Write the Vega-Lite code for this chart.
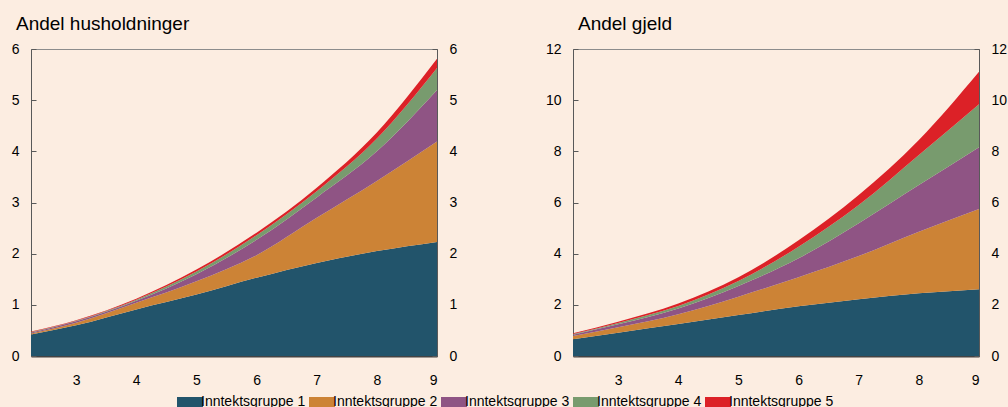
{
"$schema":"https://vega.github.io/schema/vega-lite/v6.json",
"background":"#fcede1",
"padding":{"left":10,"top":14,"right":0,"bottom":0},
"datasets":{
"hh":[
{"x":2.25,"gruppe":"Inntektsgruppe 1","v":0.42},{"x":2.25,"gruppe":"Inntektsgruppe 2","v":0.02},{"x":2.25,"gruppe":"Inntektsgruppe 3","v":0.02},{"x":2.25,"gruppe":"Inntektsgruppe 4","v":0.01},{"x":2.25,"gruppe":"Inntektsgruppe 5","v":0.01},
{"x":3,"gruppe":"Inntektsgruppe 1","v":0.60},{"x":3,"gruppe":"Inntektsgruppe 2","v":0.05},{"x":3,"gruppe":"Inntektsgruppe 3","v":0.03},{"x":3,"gruppe":"Inntektsgruppe 4","v":0.01},{"x":3,"gruppe":"Inntektsgruppe 5","v":0.01},
{"x":4,"gruppe":"Inntektsgruppe 1","v":0.91},{"x":4,"gruppe":"Inntektsgruppe 2","v":0.13},{"x":4,"gruppe":"Inntektsgruppe 3","v":0.04},{"x":4,"gruppe":"Inntektsgruppe 4","v":0.02},{"x":4,"gruppe":"Inntektsgruppe 5","v":0.02},
{"x":5,"gruppe":"Inntektsgruppe 1","v":1.20},{"x":5,"gruppe":"Inntektsgruppe 2","v":0.26},{"x":5,"gruppe":"Inntektsgruppe 3","v":0.14},{"x":5,"gruppe":"Inntektsgruppe 4","v":0.05},{"x":5,"gruppe":"Inntektsgruppe 5","v":0.04},
{"x":6,"gruppe":"Inntektsgruppe 1","v":1.53},{"x":6,"gruppe":"Inntektsgruppe 2","v":0.44},{"x":6,"gruppe":"Inntektsgruppe 3","v":0.30},{"x":6,"gruppe":"Inntektsgruppe 4","v":0.09},{"x":6,"gruppe":"Inntektsgruppe 5","v":0.05},
{"x":7,"gruppe":"Inntektsgruppe 1","v":1.82},{"x":7,"gruppe":"Inntektsgruppe 2","v":0.88},{"x":7,"gruppe":"Inntektsgruppe 3","v":0.40},{"x":7,"gruppe":"Inntektsgruppe 4","v":0.12},{"x":7,"gruppe":"Inntektsgruppe 5","v":0.07},
{"x":8,"gruppe":"Inntektsgruppe 1","v":2.05},{"x":8,"gruppe":"Inntektsgruppe 2","v":1.37},{"x":8,"gruppe":"Inntektsgruppe 3","v":0.58},{"x":8,"gruppe":"Inntektsgruppe 4","v":0.25},{"x":8,"gruppe":"Inntektsgruppe 5","v":0.12},
{"x":9,"gruppe":"Inntektsgruppe 1","v":2.23},{"x":9,"gruppe":"Inntektsgruppe 2","v":1.96},{"x":9,"gruppe":"Inntektsgruppe 3","v":1.01},{"x":9,"gruppe":"Inntektsgruppe 4","v":0.43},{"x":9,"gruppe":"Inntektsgruppe 5","v":0.18}
],
"gj":[
{"x":2.25,"gruppe":"Inntektsgruppe 1","v":0.65},{"x":2.25,"gruppe":"Inntektsgruppe 2","v":0.13},{"x":2.25,"gruppe":"Inntektsgruppe 3","v":0.05},{"x":2.25,"gruppe":"Inntektsgruppe 4","v":0.03},{"x":2.25,"gruppe":"Inntektsgruppe 5","v":0.03},
{"x":3,"gruppe":"Inntektsgruppe 1","v":0.91},{"x":3,"gruppe":"Inntektsgruppe 2","v":0.21},{"x":3,"gruppe":"Inntektsgruppe 3","v":0.12},{"x":3,"gruppe":"Inntektsgruppe 4","v":0.05},{"x":3,"gruppe":"Inntektsgruppe 5","v":0.05},
{"x":4,"gruppe":"Inntektsgruppe 1","v":1.25},{"x":4,"gruppe":"Inntektsgruppe 2","v":0.38},{"x":4,"gruppe":"Inntektsgruppe 3","v":0.23},{"x":4,"gruppe":"Inntektsgruppe 4","v":0.09},{"x":4,"gruppe":"Inntektsgruppe 5","v":0.10},
{"x":5,"gruppe":"Inntektsgruppe 1","v":1.60},{"x":5,"gruppe":"Inntektsgruppe 2","v":0.72},{"x":5,"gruppe":"Inntektsgruppe 3","v":0.42},{"x":5,"gruppe":"Inntektsgruppe 4","v":0.19},{"x":5,"gruppe":"Inntektsgruppe 5","v":0.15},
{"x":6,"gruppe":"Inntektsgruppe 1","v":1.94},{"x":6,"gruppe":"Inntektsgruppe 2","v":1.14},{"x":6,"gruppe":"Inntektsgruppe 3","v":0.74},{"x":6,"gruppe":"Inntektsgruppe 4","v":0.45},{"x":6,"gruppe":"Inntektsgruppe 5","v":0.25},
{"x":7,"gruppe":"Inntektsgruppe 1","v":2.22},{"x":7,"gruppe":"Inntektsgruppe 2","v":1.69},{"x":7,"gruppe":"Inntektsgruppe 3","v":1.28},{"x":7,"gruppe":"Inntektsgruppe 4","v":0.71},{"x":7,"gruppe":"Inntektsgruppe 5","v":0.39},
{"x":8,"gruppe":"Inntektsgruppe 1","v":2.45},{"x":8,"gruppe":"Inntektsgruppe 2","v":2.41},{"x":8,"gruppe":"Inntektsgruppe 3","v":1.82},{"x":8,"gruppe":"Inntektsgruppe 4","v":1.18},{"x":8,"gruppe":"Inntektsgruppe 5","v":0.58},
{"x":9,"gruppe":"Inntektsgruppe 1","v":2.61},{"x":9,"gruppe":"Inntektsgruppe 2","v":3.14},{"x":9,"gruppe":"Inntektsgruppe 3","v":2.41},{"x":9,"gruppe":"Inntektsgruppe 4","v":1.68},{"x":9,"gruppe":"Inntektsgruppe 5","v":1.27}
]
},
"spacing":86,
"hconcat":[
{
"width":406,"height":307,
"title":{"text":"Andel husholdninger","dx":-15},
"data":{"name":"hh"},
"encoding":{
"x":{"field":"x","type":"quantitative","scale":{"domain":[2.25,9],"nice":false,"zero":false},"axis":{"values":[3,4,5,6,7,8,9],"title":null}},
"color":{"field":"gruppe","type":"nominal","scale":{"domain":["Inntektsgruppe 1","Inntektsgruppe 2","Inntektsgruppe 3","Inntektsgruppe 4","Inntektsgruppe 5"],"range":["#22546b","#cc8336","#8f5484","#789b6e","#dc2127"]},"legend":{"title":null}},
"order":{"field":"gruppe","sort":"ascending"}
},
"layer":[
{"mark":{"type":"area","interpolate":"monotone"},"encoding":{"y":{"field":"v","type":"quantitative","stack":"zero","scale":{"domain":[0,6],"nice":false},"axis":{"orient":"left","values":[0,1,2,3,4,5,6],"title":null}}}},
{"mark":{"type":"area","interpolate":"monotone","opacity":0},"encoding":{"y":{"field":"v","type":"quantitative","stack":"zero","scale":{"domain":[0,6],"nice":false},"axis":{"orient":"right","values":[0,1,2,3,4,5,6],"title":null}}}}
],
"resolve":{"axis":{"y":"independent"}}
},
{
"width":406,"height":307,
"title":{"text":"Andel gjeld","dx":5},
"data":{"name":"gj"},
"encoding":{
"x":{"field":"x","type":"quantitative","scale":{"domain":[2.25,9],"nice":false,"zero":false},"axis":{"values":[3,4,5,6,7,8,9],"title":null}},
"color":{"field":"gruppe","type":"nominal","scale":{"domain":["Inntektsgruppe 1","Inntektsgruppe 2","Inntektsgruppe 3","Inntektsgruppe 4","Inntektsgruppe 5"],"range":["#22546b","#cc8336","#8f5484","#789b6e","#dc2127"]},"legend":{"title":null}},
"order":{"field":"gruppe","sort":"ascending"}
},
"layer":[
{"mark":{"type":"area","interpolate":"monotone"},"encoding":{"y":{"field":"v","type":"quantitative","stack":"zero","scale":{"domain":[0,12],"nice":false},"axis":{"orient":"left","values":[0,2,4,6,8,10,12],"title":null}}}},
{"mark":{"type":"area","interpolate":"monotone","opacity":0},"encoding":{"y":{"field":"v","type":"quantitative","stack":"zero","scale":{"domain":[0,12],"nice":false},"axis":{"orient":"right","values":[0,2,4,6,8,10,12],"title":null}}}}
],
"resolve":{"axis":{"y":"independent"}}
}
],
"resolve":{"scale":{"color":"shared"}},
"config":{
"font":"Liberation Sans",
"view":{"stroke":"#8c8c8c","strokeWidth":1},
"axis":{"grid":false,"labelFontSize":14,"labelColor":"#000000","tickColor":"#595959","domainColor":"#595959","tickSize":-5,"labelPadding":17},
"axisX":{"domainWidth":2,"domainColor":"#444444","labelPadding":22},
"title":{"anchor":"start","frame":"group","fontSize":19,"fontWeight":"normal","color":"#000000","baseline":"alphabetic","offset":8},
"legend":{"orient":"none","legendX":149,"legendY":343,"direction":"horizontal","labelFontSize":14,"labelColor":"#000000","symbolType":"M-1.3,-0.5L1.3,-0.5L1.3,0.5L-1.3,0.5Z","symbolSize":400,"symbolStrokeWidth":0,"columnPadding":3,"labelOffset":1}
}
}
